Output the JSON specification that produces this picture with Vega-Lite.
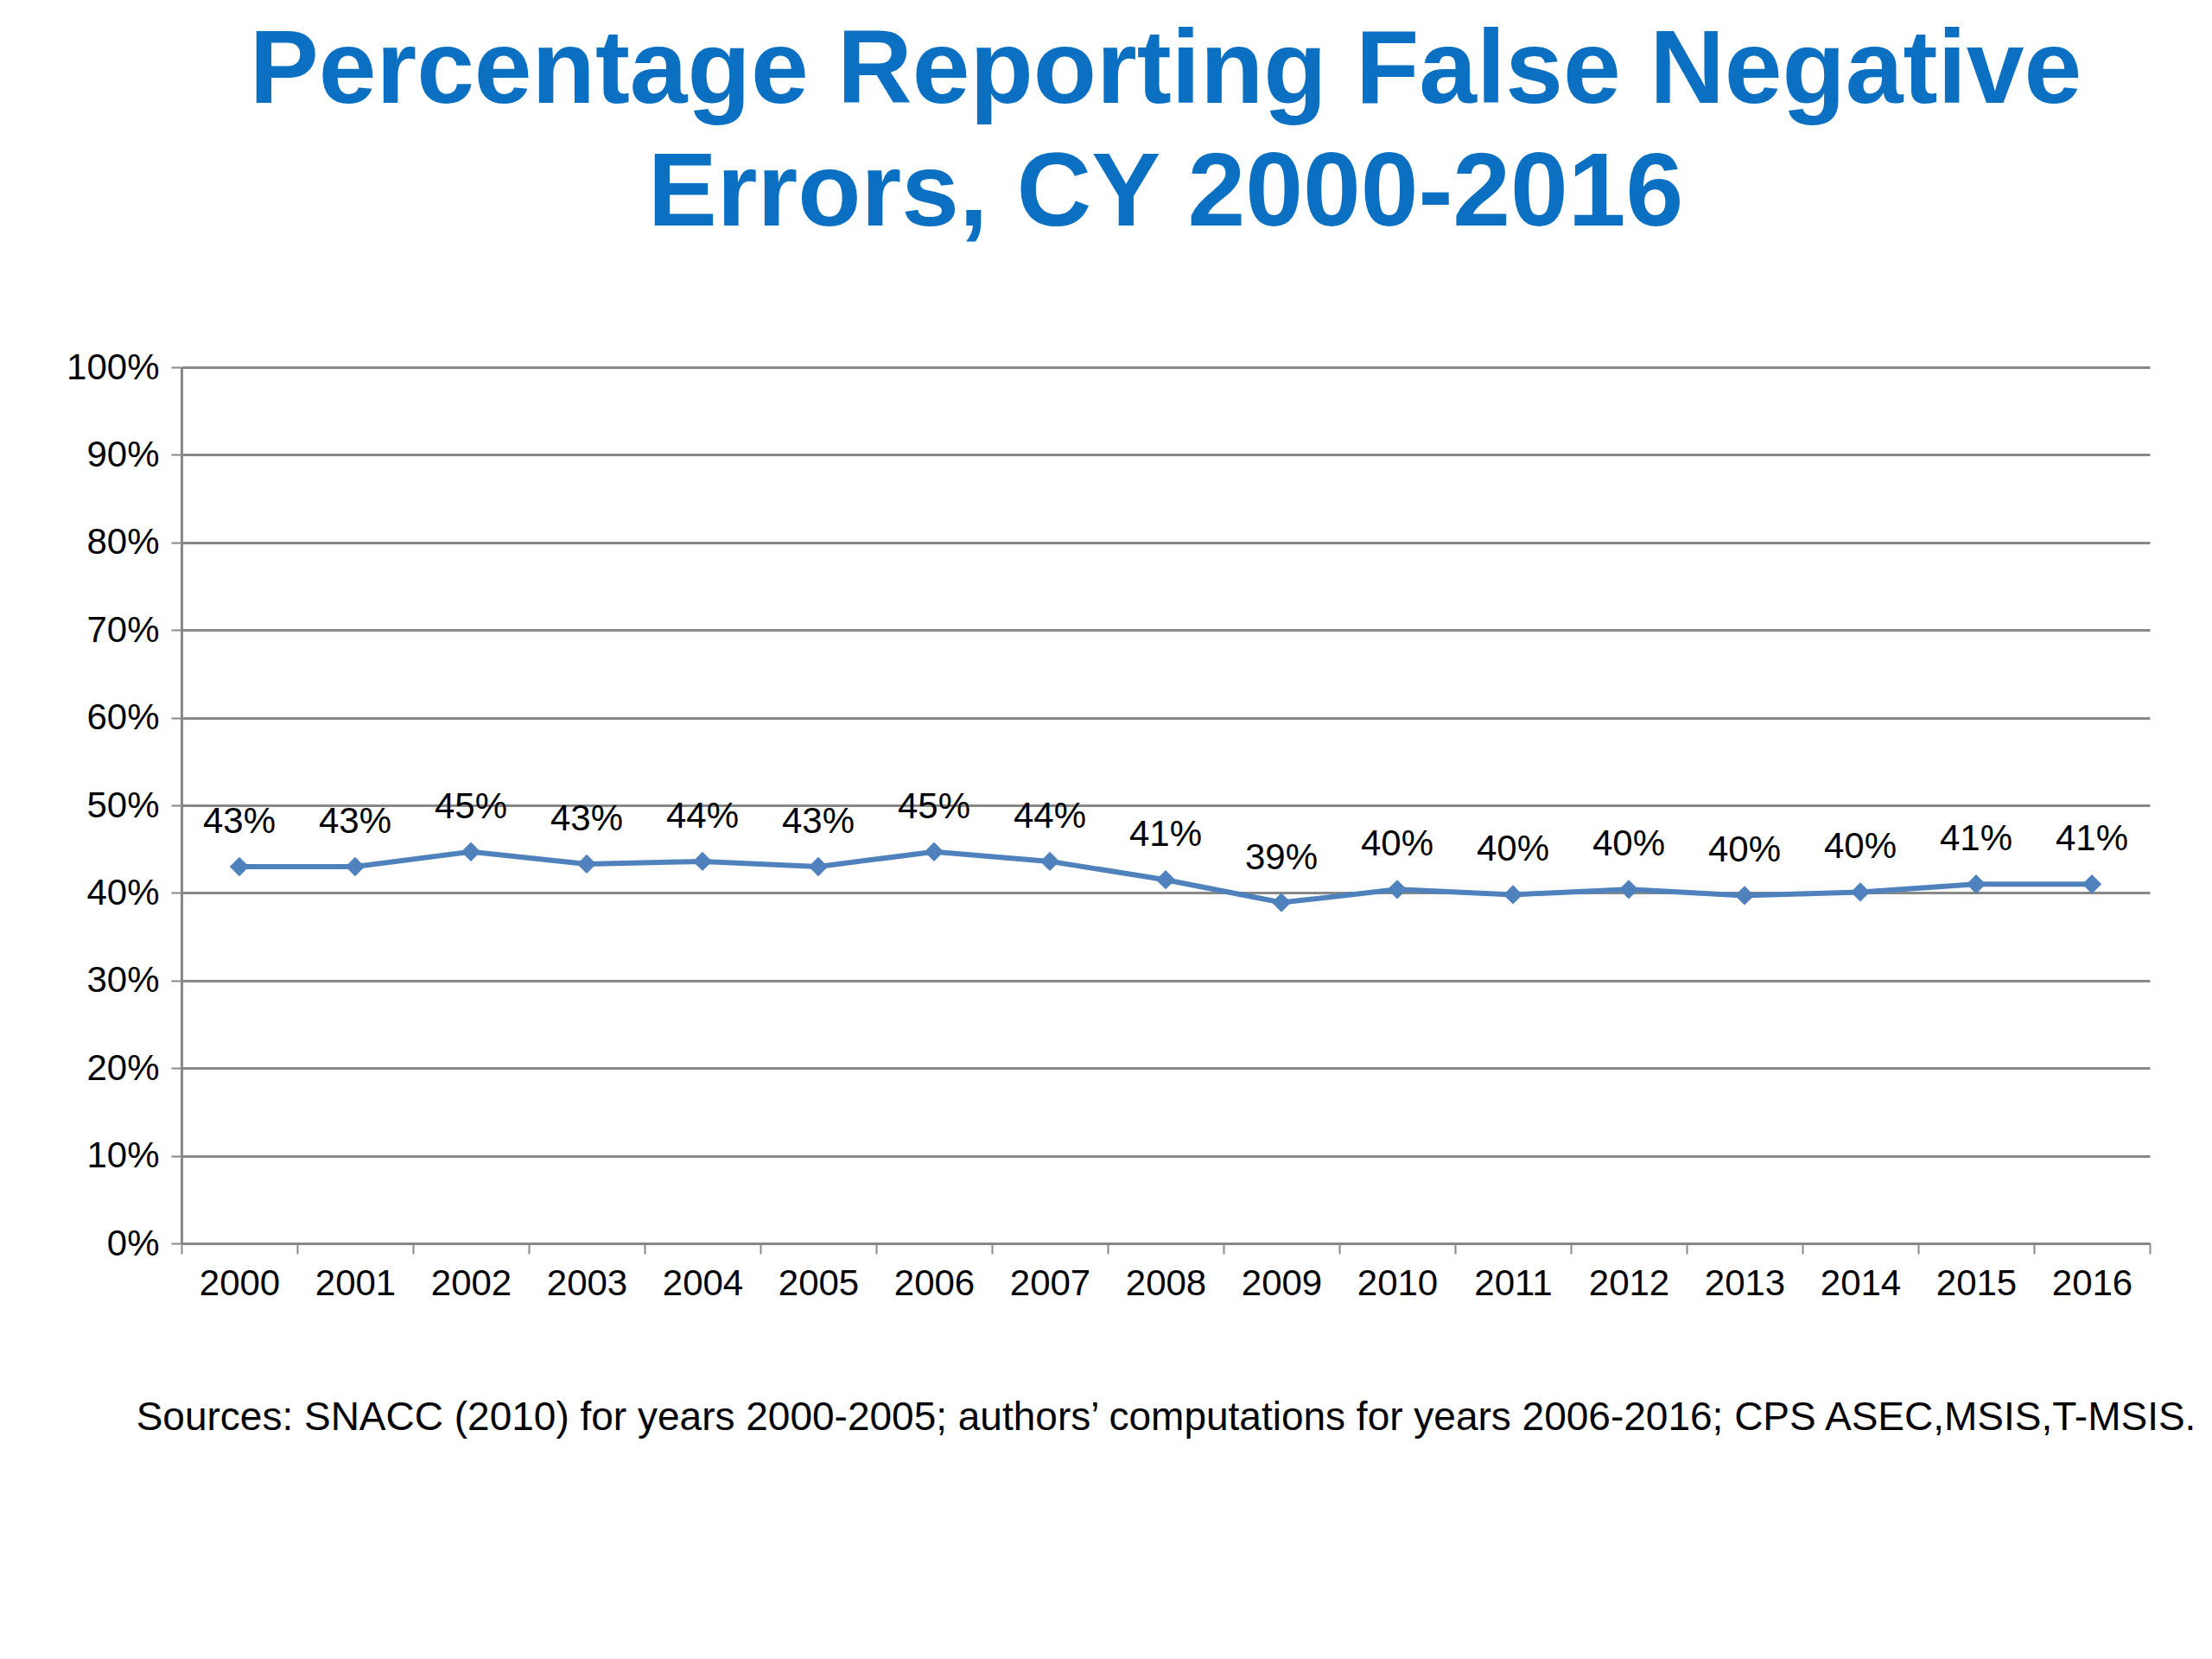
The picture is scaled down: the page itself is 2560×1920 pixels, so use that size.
{
  "$schema": "https://vega.github.io/schema/vega-lite/v6.json",
  "autosize": "none",
  "width": 2278,
  "height": 1014,
  "padding": {"left": 210, "top": 425, "right": 72, "bottom": 481},
  "background": "white",
  "title": {
    "text": ["Percentage Reporting False Negative", "Errors, CY 2000-2016"],
    "fontSize": 120,
    "font": "Liberation Sans",
    "fontWeight": "bold",
    "color": "#0B70C2",
    "lineHeight": 142,
    "anchor": "middle",
    "offset": 118
  },
  "config": {
    "view": {"stroke": null},
    "axis": {"labelFont": "Liberation Sans", "titleFont": "Liberation Sans", "labelColor": "#000", "titleColor": "#000"}
  },
  "data": {"values": [
    {"year": "2000", "v": 0.430, "label": "43%"},
    {"year": "2001", "v": 0.430, "label": "43%"},
    {"year": "2002", "v": 0.447, "label": "45%"},
    {"year": "2003", "v": 0.433, "label": "43%"},
    {"year": "2004", "v": 0.436, "label": "44%"},
    {"year": "2005", "v": 0.430, "label": "43%"},
    {"year": "2006", "v": 0.447, "label": "45%"},
    {"year": "2007", "v": 0.436, "label": "44%"},
    {"year": "2008", "v": 0.415, "label": "41%"},
    {"year": "2009", "v": 0.389, "label": "39%"},
    {"year": "2010", "v": 0.404, "label": "40%"},
    {"year": "2011", "v": 0.398, "label": "40%"},
    {"year": "2012", "v": 0.404, "label": "40%"},
    {"year": "2013", "v": 0.397, "label": "40%"},
    {"year": "2014", "v": 0.401, "label": "40%"},
    {"year": "2015", "v": 0.410, "label": "41%"},
    {"year": "2016", "v": 0.410, "label": "41%"}
  ]},
  "encoding": {
    "x": {
      "field": "year", "type": "ordinal", "bandPosition": 0.5,
      "scale": {"type": "band", "paddingInner": 0, "paddingOuter": 0},
      "axis": {
        "labelAngle": 0, "labelFontSize": 42, "labelPadding": 14, "labelOverlap": false,
        "tickBand": "extent", "tickSize": 12, "tickWidth": 2, "tickColor": "#888",
        "domainColor": "#888", "domainWidth": 3, "grid": false,
        "title": "Sources: SNACC (2010) for years 2000-2005; authors’ computations for years 2006-2016; CPS ASEC,MSIS,T-MSIS.",
        "titleFontSize": 46, "titleFontWeight": "normal", "titlePadding": 112
      }
    },
    "y": {
      "field": "v", "type": "quantitative",
      "scale": {"domain": [0, 1]},
      "axis": {
        "format": ".0%", "values": [0,0.1,0.2,0.3,0.4,0.5,0.6,0.7,0.8,0.9,1], "labelOverlap": false,
        "labelFontSize": 42, "labelPadding": 14, "tickSize": 12, "tickWidth": 2, "tickColor": "#888",
        "domainColor": "#888", "domainWidth": 3,
        "grid": true, "gridColor": "#888", "gridWidth": 3, "title": null
      }
    }
  },
  "layer": [
    {"mark": {"type": "line", "color": "#4F81BD", "strokeWidth": 6}},
    {"mark": {"type": "point", "shape": "diamond", "filled": true, "color": "#4F81BD", "size": 500, "opacity": 1}},
    {"mark": {"type": "text", "font": "Liberation Sans", "fontSize": 42, "dy": -52, "color": "#000"},
     "encoding": {"text": {"field": "label"}}}
  ]
}
